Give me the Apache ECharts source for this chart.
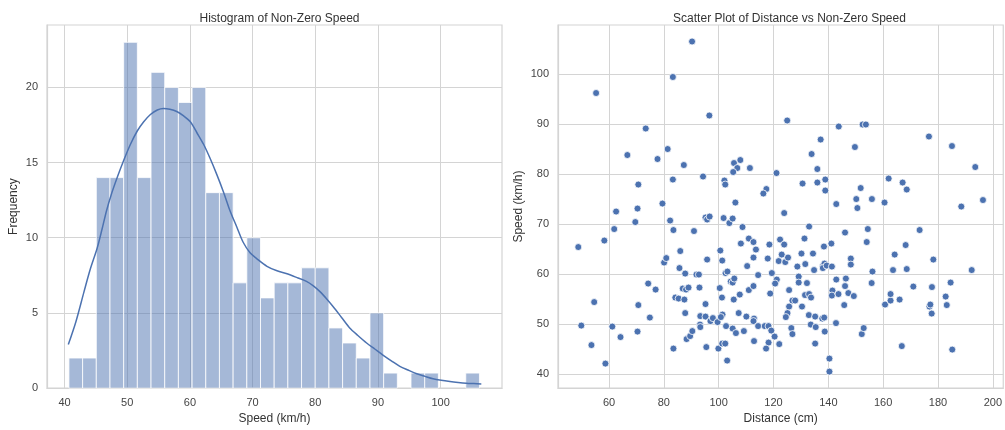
<!DOCTYPE html>
<html>
<head>
<meta charset="utf-8">
<script src="https://cdn.jsdelivr.net/npm/echarts@6/dist/echarts.min.js"></script>
<style>html,body{margin:0;padding:0;background:#fff}#c{width:1005px;height:430px}</style>
</head>
<body>
<div id="c"></div>
<script>
// ---- Histogram data ----
const binMin = 40.7;
const binMax = 106.2;
const binCounts = [2,2,14,14,23,14,21,20,19,20,13,13,7,10,6,7,7,8,8,4,3,2,5,1,0,1,1,0,0,1];
// KDE curve [speed, frequency]
const kdeX = [40.6,41.8,43.1,44.1,45.2,46.0,46.7,47.4,48.4,49.4,50.5,51.6,52.6,53.7,54.8,55.8,56.8,57.9,59.0,60.1,61.1,62.2,63.2,64.3,65.4,66.4,67.5,68.5,69.6,70.7,72.3,73.9,75.5,77.1,78.6,79.7,80.8,81.9,82.9,84.2,85.5,86.8,88.2,89.5,90.8,92.2,93.5,94.8,96.2,97.5,98.8,100.1,101.5,102.8,104.1,105.3,106.5];
const kdeY = [2.9,4.4,6.4,7.9,9.3,10.6,11.8,12.8,14.0,15.1,16.2,17.1,17.7,18.2,18.5,18.6,18.55,18.4,18.1,17.7,17.0,16.2,15.3,14.2,13.0,11.8,10.7,9.7,9.0,8.6,8.1,7.8,7.6,7.35,7.1,6.8,6.4,5.9,5.4,4.7,4.0,3.5,3.0,2.6,2.2,1.8,1.45,1.2,0.95,0.78,0.62,0.52,0.44,0.38,0.33,0.30,0.27];
const histXTicks = [40,50,60,70,80,90,100];
const histYTicks = [0,5,10,15,20];

// ---- Scatter data ----
const distance = [
90.3,83.3,55.3,96.6,73.4,81.4,66.7,77.7,87.3,105.6,107.9,106.8,111.4,105.3,94.3,83.3,102.1,102.4,70.7,106.1,79.5,62.6,70.4,
48.8,49.9,53.6,54.6,58.3,58.7,61.2,61.9,64.2,69.6,70.7,70.4,74.3,74.9,77.0,80.1,80.9,82.3,83.5,83.5,84.2,85.4,85.7,86.0,86.9,88.1,89.0,87.5,87.8,87.8,88.3,89.6,90.4,91.0,91.9,92.8,93.0,93.3,93.2,93.3,95.2,95.8,96.7,95.2,95.2,95.5,95.8,97.0,97.9,99.6,99.9,100.6,100.4,101.2,101.3,101.3,101.4,100.8,101.8,102.4,102.5,103.2,103.1,102.7,103.9,104.4,105.1,105.1,105.5,105.7,105.1,106.3,107.3,107.7,108.7,109.2,108.1,110.4,111.0,110.1,111.0,
112.7,113.6,112.7,114.4,112.7,118.8,112.9,112.7,114.4,116.8,118.2,119.2,120.4,112.9,118.2,117.3,122.1,118.5,117.9,122.4,123.9,123.0,121.9,124.3,125.3,123.9,119.4,121.2,120.6,125.7,126.9,127.9,125.7,125.1,124.5,126.5,126.9,128.7,129.2,129.2,130.4,130.2,131.3,131.6,132.2,131.5,133.0,133.0,133.7,132.9,133.6,134.4,134.8,135.2,135.4,135.2,138.4,138.1,138.6,138.0,139.4,137.8,138.5,138.7,140.4,140.4,141.1,141.3,141.5,141.3,142.9,142.8,143.7,142.9,146.1,146.4,146.1,145.8,147.3,148.2,148.2,149.3,150.2,150.6,152.2,152.9,154.4,154.0,155.9,156.1,155.8,160.5,160.7,162.7,162.7,163.6,164.2,166.0,166.8,168.2,168.6,171.0,173.3,176.9,177.2,177.7,177.8,178.3,182.8,183.2,184.6,185.2,188.5,192.3,196.4,
125.0,143.8,152.5,153.7,137.2,133.9,149.7,176.7,185.1,136.0,121.1,193.6,130.6,136.0,138.9,138.9,117.4,116.3,162.0,167.1,168.6,151.8
];
const speed = [
106.5,99.4,96.2,91.7,89.1,85.0,83.8,83.0,81.8,82.2,82.8,81.2,81.2,80.4,79.5,78.9,78.7,77.9,77.9,74.3,74.1,72.5,73.1,
65.4,49.7,45.8,54.4,66.7,42.1,49.5,69.0,47.4,70.4,53.8,48.5,58.1,51.3,56.9,62.3,63.2,70.7,68.8,45.1,55.3,55.1,61.2,64.6,57.1,56.9,57.3,54.9,60.1,52.2,47.0,47.6,48.6,68.6,59.9,59.9,57.3,51.6,49.9,49.4,71.3,70.9,71.5,54.0,51.5,45.4,62.9,50.6,51.2,50.4,45.1,64.7,57.2,55.3,62.7,46.1,51.9,51.4,71.2,46.1,60.2,60.5,42.7,49.6,70.2,58.5,71.1,58.3,54.9,59.1,49.1,48.2,52.2,55.9,69.4,48.6,66.1,61.6,67.1,51.5,56.8,
66.4,64.9,63.3,59.8,57.6,56.1,51.1,50.6,49.6,49.6,49.6,48.7,47.5,46.6,46.3,45.1,46.0,65.9,63.1,66.9,65.9,63.9,62.6,62.4,63.3,72.2,60.2,58.9,58.1,56.8,54.7,54.7,53.5,52.2,51.4,49.2,48.0,61.5,59.5,58.3,53.5,64.1,67.1,62.0,58.2,55.8,69.5,56.0,55.3,51.8,49.9,64.1,60.8,51.5,49.4,46.1,65.5,61.7,62.1,61.2,61.7,51.1,51.3,48.5,43.1,40.5,66.1,61.5,56.7,55.7,58.9,50.2,56.0,74.0,68.3,59.1,57.6,53.8,56.2,63.1,61.9,55.6,75.0,73.2,48.0,49.2,69.0,66.4,75.0,60.5,58.2,74.3,53.9,54.7,56.0,60.8,63.9,54.9,45.6,65.8,61.0,57.5,68.8,53.5,53.9,52.1,57.4,62.9,55.5,53.8,58.3,44.9,73.5,60.8,74.8,
90.7,89.5,89.9,89.9,86.9,84.0,85.4,87.5,85.6,81.0,80.2,81.4,78.1,78.3,78.9,76.7,77.0,76.1,79.1,78.3,76.9,77.2
];
const scatterXTicks = [60,80,100,120,140,160,180,200];
const scatterYTicks = [40,50,60,70,80,90,100];

// ---- build ----
const nb = binCounts.length;
const bw = (binMax - binMin) / nb;
const histData = binCounts.map((c, i) => [binMin + i * bw, binMin + (i + 1) * bw, c]);
const kdeData = kdeX.map((x, i) => [x, kdeY[i]]);
const scatterData = distance.map((d, i) => [d, speed[i]]);

const FONT = 'Liberation Sans, Arial, sans-serif';
const TXT = '#333333';
const TICK = '#444444';
const GRIDC = '#d4d4d4';

function axisBase(ticks, extra) {
  return Object.assign({
    type: 'value',
    axisLine: { show: true, lineStyle: { color: GRIDC, width: 1.2 } },
    axisTick: { show: false, customValues: ticks },
    axisLabel: { customValues: ticks, color: TICK, fontSize: 11, fontFamily: FONT, margin: 9 },
    splitLine: { show: true, lineStyle: { color: GRIDC, width: 1 } },
    nameTextStyle: { color: TXT, fontSize: 12, fontFamily: FONT },
    nameLocation: 'middle'
  }, extra);
}

const chart = echarts.init(document.getElementById('c'), null, { renderer: 'canvas' });
chart.setOption({
  animation: false,
  backgroundColor: '#fff',
  title: [
    { text: 'Histogram of Non-Zero Speed', left: 274.5, top: 8, textAlign: 'center',
      textStyle: { fontSize: 12, fontWeight: 'normal', color: TXT, fontFamily: FONT } },
    { text: 'Scatter Plot of Distance vs Non-Zero Speed', left: 784.5, top: 8, textAlign: 'center',
      textStyle: { fontSize: 12, fontWeight: 'normal', color: TXT, fontFamily: FONT } }
  ],
  grid: [
    { left: 47, top: 25, width: 455, height: 366, show: true, borderColor: GRIDC, borderWidth: 1.2 },
    { left: 558, top: 25, width: 453, height: 366, show: true, borderColor: GRIDC, borderWidth: 1.2 }
  ],
  xAxis: [
    axisBase(histXTicks, { gridIndex: 0, min: 37.2, max: 109.8, name: 'Speed (km/h)', nameGap: 23 }),
    axisBase(scatterXTicks, { gridIndex: 1, min: 41.4, max: 203.8, name: 'Distance (cm)', nameGap: 23 })
  ],
  yAxis: [
    axisBase(histYTicks, { gridIndex: 0, min: 0, max: 24.15, name: 'Frequency', nameGap: 27 }),
    axisBase(scatterYTicks, { gridIndex: 1, min: 37.2, max: 109.8, name: 'Speed (km/h)', nameGap: 33 })
  ],
  series: [
    {
      type: 'custom', xAxisIndex: 0, yAxisIndex: 0, data: histData, z: 2,
      encode: { x: [0, 1], y: 2 },
      renderItem: function (params, api) {
        const c = api.value(2);
        if (!c) return null;
        const p0 = api.coord([api.value(0), c]);
        const p1 = api.coord([api.value(1), 0]);
        return {
          type: 'rect',
          shape: { x: p0[0], y: p0[1], width: p1[0] - p0[0], height: p1[1] - p0[1] },
          style: { fill: 'rgba(76,114,176,0.5)', stroke: '#ffffff', lineWidth: 0.8 }
        };
      }
    },
    {
      type: 'line', xAxisIndex: 0, yAxisIndex: 0, data: kdeData, showSymbol: false, smooth: 0.3, z: 3,
      lineStyle: { color: '#4c72b0', width: 1.5 }
    },
    {
      type: 'scatter', xAxisIndex: 1, yAxisIndex: 1, data: scatterData, symbolSize: 7, z: 3,
      itemStyle: { color: '#4c72b0', borderColor: '#ffffff', borderWidth: 0.8, opacity: 1 }
    }
  ]
});
</script>
</body>
</html>
